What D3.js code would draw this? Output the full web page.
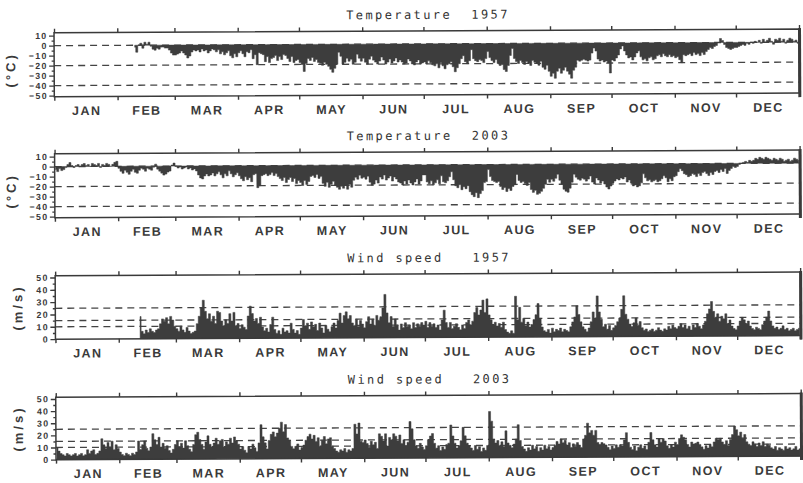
<!DOCTYPE html>
<html>
<head>
<meta charset="utf-8">
<script src="https://cdn.jsdelivr.net/npm/d3@7"></script>
<style>
  body { margin: 0; background: #fff; }
  svg { display: block; }
  .title { font-family: "DejaVu Sans Mono", monospace; font-size: 12px; letter-spacing: 2.4px; fill: #333; white-space: pre; }
  .month { font-family: "Liberation Sans", Arial, sans-serif; font-weight: bold; font-size: 12.5px; letter-spacing: 1.4px; fill: #3a3a3a; }
  .unit { font-family: "Liberation Sans", Arial, sans-serif; font-weight: bold; font-size: 13px; letter-spacing: 3px; fill: #3a3a3a; }
  .yaxis text { font-family: "Liberation Sans", Arial, sans-serif; font-weight: bold; font-size: 8.8px; letter-spacing: 1.3px; fill: #3a3a3a; }
  .yaxis line, .xaxis line { stroke: #3a3a3a; stroke-width: 1.4; }
</style>
</head>
<body>
<svg id="chart" width="803" height="483"></svg>
<script>
// Month labels and the day-of-year on which each month starts
const months = ["JAN","FEB","MAR","APR","MAY","JUN","JUL","AUG","SEP","OCT","NOV","DEC"];
const monthStarts = [0,31,59,90,120,151,181,212,243,273,304,334,365];

// Panel titles and axis units
const titles = ["Temperature  1957", "Temperature  2003", "Wind speed   1957", "Wind speed   2003"];
const units = ["(°C)", "(°C)", "(m/s)", "(m/s)"];

// Axis ticks and dashed reference levels
const tempTicks = [10,0,-10,-20,-30,-40,-50];
const tempMinor = [5,-5,-15,-25,-35,-45];
const tempRefs = [0,-20,-40];
const windTicks = [0,10,20,30,40,50];
const windMinor = [5,15,25,35,45];
const windRefs = [10,15,25];

// Daily air temperature (°C), 1957 record begins on day 39
const temp1957Start = 39;
const temp1957 = [
  -2,-7,0,2,-3,3,1,
  3,-1,-4,-5,-3,-4,-2,
  -2,-3,-3,-5,-8,-10,
  -10,-9,-8,-6,-8,-10,-13,
  -11,-7,-5,-6,-5,-7,-4,
  -6,-5,-8,-6,-4,-5,-7,-5,
  -9,-7,-10,-8,-6,-11,-13,-9,-12,
  -8,-6,-9,-12,-7,-8,-5,-14,-10,-20,
  -8,-9,-10,-17,-12,-18,-14,-13,-11,-16,
  -12,-15,-10,-11,-14,-17,-12,-18,-16,-15,
  -18,-20,-27,-19,-14,-16,-13,-17,-15,-18,
  -19,-21,-18,-20,-22,-25,-28,-24,-20,-8,
  -12,-20,-18,-14,-17,-15,-20,-18,-10,-14,-17,
  -14,-18,-20,-15,-12,-16,-18,-20,-17,-13,-16,-20,-18,-15,-19,-17,-14,-18,
  -16,-18,-20,-19,-15,-17,-20,-21,-18,-16,-20,-19,
  -18,-20,-17,-19,-21,-22,-20,-24,-19,-22,-25,-21,-20,-18,-23,
  -28,-24,-20,-15,-12,
  -18,-20,-17,-6,-15,-17,-18,-16,-17,-19,-15,
  -8,-14,-17,-19,-16,-20,-22,-21,-26,-28,-22,
  -12,-5,-15,-18,-20,-17,-19,-21,-18,-20,
  -22,-17,-19,-20,-22,-18,-24,-26,-22,-28,
  -33,-30,-35,-28,-25,-30,-27,-24,-28,-31,
  -35,-27,-24,-17,-18,-17,-16,-17,-18,-17,
  -10,-5,-8,-16,-18,-17,-19,-18,-20,-30,
  -17,-18,-15,-12,-6,-3,-8,-12,-15,-14,-17,
  -14,-10,-8,-14,-17,-16,-18,-15,-14,-17,
  -16,-13,-12,-14,-11,-13,-14,-12,-14,-13,
  -15,-14,-17,-20,-12,-13,-12,-11,-13,-10,
  -12,-11,-13,-10,-12,-9,-7,-5,-6,-4,-3,0,4,2,-2,-5,-6,-7,-6,-5,
  -5,-4,-3,-2,-3,-1,-2,0,-1,1,0,
  2,-1,3,0,2,4,1,-2,3,2,4,1,3,-1,2,4,3,1,2,-1
];

// Daily air temperature (°C), 2003 full year
const temp2003Start = 0;
const temp2003 = [
  -3,-5,-2,-4,-3,-1,2,4,1,-1,
  1,2,0,2,3,1,2,0,3,2,
  1,3,-1,2,1,3,2,0,2,4,5,
  -2,-5,-7,-4,-6,-8,-5,-3,-6,-7,-4,
  -2,-3,-5,-2,-3,-4,-1,2,
  -3,-5,-7,-9,-8,-6,-5,1,3,
  0,-2,-1,-3,-2,-1,-3,-2,-4,-3,-5,
  -9,-12,-13,-10,-8,-10,-9,-7,-10,-8,
  -6,-9,-12,-8,-10,-5,-8,-11,-9,-7,
  -10,-13,-15,-11,-14,-12,-16,-9,-8,-22,
  -20,-10,-9,-8,-10,-9,-7,-10,-8,-11,
  -13,-15,-12,-17,-14,-12,-16,-13,-18,-15,
  -17,-20,-15,-19,-16,-11,-10,-12,-9,-13,
  -11,-18,-21,-17,-22,-19,-16,-20,-22,-24,
  -21,-23,-20,-24,-19,-22,-15,-12,-14,-10,-13,
  -12,-14,-11,-17,-20,-19,-15,-18,-12,-14,
  -10,-15,-13,-11,-16,-12,-14,-17,-18,-20,
  -16,-19,-15,-18,-20,-17,-14,-19,-16,-10,
  -10,-17,-19,-16,-20,-18,-15,-19,-11,-17,
  -18,-16,-12,-7,-15,-21,-23,-20,-25,-22,
  -24,-21,-27,-30,-32,-28,-33,-29,-26,-18,
  -17,-5,-12,-16,-17,-18,-17,-22,-25,-23,
  -27,-24,-26,-22,-20,-10,-16,-18,-17,-19,
  -21,-18,-25,-28,-26,-30,-29,-27,-24,-20,
  -15,-18,-15,-17,-14,-10,-16,-20,-25,-27,
  -28,-24,-18,-10,-13,-15,-16,-14,-15,-17,
  -15,-12,-18,-20,-14,-16,-19,-17,-20,-23,
  -25,-22,-19,-17,-15,-16,-14,-15,-13,-18,
  -16,-19,-22,-21,-23,-22,-19,-10,-14,-17,
  -16,-18,-17,-16,-18,-17,-15,-12,-14,-18,
  -15,-17,-13,-12,-8,-5,-7,-10,-11,-13,
  -12,-10,-11,-13,-10,-12,-9,-8,-10,-12,
  -9,-11,-8,-7,-9,-6,-8,-5,-10,-7,
  -5,-3,-4,-3,-1,0,1,2,1,3,
  2,3,5,4,6,5,4,6,5,4,
  3,5,4,3,5,4,2,3,4,2,3,5,4,3
];

// Daily peak wind speed (m/s), 1957 record begins on day 41
const wind1957Start = 41;
const wind1957 = [
  18,6,4,7,5,8,6,5,7,8,
  12,16,14,17,12,18,15,10,8,6,
  10,7,5,9,6,4,5,6,12,18,
  25,31,22,16,20,14,18,12,22,21,
  14,10,15,12,20,14,21,10,12,8,
  11,9,7,18,26,20,14,16,12,17,
  9,6,8,5,11,17,7,4,6,3,
  8,5,6,4,12,7,4,6,3,8,
  15,10,12,7,13,9,11,6,12,8,
  4,10,7,5,9,12,8,14,20,12,
  18,21,15,18,12,10,15,9,14,11,
  8,13,17,11,15,10,18,14,17,24,
  35,20,12,17,9,15,10,6,11,8,
  12,9,10,7,12,8,11,9,12,10,
  13,8,12,9,11,8,10,6,14,22,
  12,8,12,7,9,11,8,6,10,7,
  12,14,10,13,20,24,18,22,30,20,
  31,18,14,10,12,9,11,8,12,6,
  4,3,5,3,33,14,24,12,15,9,
  12,8,10,14,18,27,15,8,5,4,
  6,3,7,4,6,5,7,4,6,5,
  4,8,12,16,25,18,12,8,6,4,
  7,12,20,15,33,20,14,8,10,6,
  9,5,7,9,12,15,22,33,18,14,
  10,8,11,15,9,12,7,5,6,4,
  5,6,4,5,7,5,4,6,5,8,
  6,9,7,6,8,10,7,9,6,8,
  5,9,7,10,8,6,9,12,18,22,
  28,20,15,18,12,16,14,18,10,13,
  8,6,5,8,12,15,13,10,12,8,
  6,5,7,6,5,9,12,15,20,12,
  8,6,7,5,6,8,5,6,4,5,
  6,4,5,6
];

// Daily peak wind speed (m/s), 2003 full year
const wind2003Start = 0;
const wind2003 = [
  10,7,5,4,3,5,4,3,4,5,
  3,4,5,3,4,8,5,7,8,4,
  5,7,17,12,9,14,10,15,8,12,
  9,6,4,3,5,4,3,5,4,6,
  15,8,12,15,9,7,10,21,16,12,
  18,10,13,9,11,7,5,8,12,15,
  10,13,9,15,11,8,6,12,20,22,
  16,12,8,14,19,12,10,13,17,12,
  15,16,10,14,12,17,13,18,15,12,
  8,10,7,5,10,8,12,9,6,13,
  28,18,13,8,15,20,22,18,21,25,
  30,22,28,17,15,10,8,10,12,7,
  9,11,15,18,20,16,19,14,17,10,
  15,18,12,16,17,10,8,6,5,7,
  6,8,5,7,6,8,28,20,29,14,
  13,15,12,9,14,11,13,8,20,18,
  14,20,10,17,15,20,18,14,19,12,
  15,10,13,30,24,15,10,8,12,9,
  7,10,15,18,20,12,8,10,6,9,
  7,11,12,27,18,12,8,10,14,25,
  18,12,10,8,6,10,7,9,5,8,
  6,10,38,30,15,12,14,10,13,9,
  22,12,10,8,11,15,27,14,9,7,
  5,8,6,10,7,9,5,8,6,10,
  7,9,6,8,10,13,11,15,12,14,
  10,12,8,11,9,12,10,8,15,18,
  28,20,22,18,22,12,10,12,11,10,
  8,6,9,7,10,8,10,9,14,20,
  12,8,6,9,5,8,10,7,9,6,
  12,20,14,10,8,15,12,15,13,9,
  7,10,8,12,10,15,18,16,14,10,
  8,12,10,11,12,10,8,6,9,7,
  10,8,12,15,14,15,12,10,13,9,
  14,18,25,22,17,20,15,18,12,10,
  9,12,10,8,11,9,12,8,10,9,
  7,6,8,5,7,6,5,8,6,7,
  5,6,8,5,6
];

const ink = "#3a3a3a";
const fillInk = "#3d3d3d";

const panels = [
  { title: titles[0], unit: units[0], top: 31,  bottom: 95,  domain: [-51, 13],  values: temp1957, start: temp1957Start, ticks: tempTicks, minor: tempMinor, refs: tempRefs, unitShift: 5 },
  { title: titles[1], unit: units[1], top: 152, bottom: 216, domain: [-51, 13],  values: temp2003, start: temp2003Start, ticks: tempTicks, minor: tempMinor, refs: tempRefs, unitShift: 5 },
  { title: titles[2], unit: units[2], top: 274, bottom: 337.5, domain: [0, 51.5], values: wind1957, start: wind1957Start, ticks: windTicks, minor: windMinor, refs: windRefs, unitShift: 0 },
  { title: titles[3], unit: units[3], top: 395.5, bottom: 458, domain: [0, 51.5], values: wind2003, start: wind2003Start, ticks: windTicks, minor: windMinor, refs: windRefs, unitShift: 0 }
];

const svg = d3.select("#chart");
// the whole sheet sits with a slight tilt
const sheet = svg.append("g").attr("transform", "rotate(-0.27,401,241)");

const x = d3.scaleLinear().domain([0, 365]).range([55, 800]);

panels.forEach(p => {
  const g = sheet.append("g");
  const y = d3.scaleLinear().domain(p.domain).range([p.bottom, p.top]);

  // dashed reference levels
  g.selectAll("line.ref").data(p.refs).join("line")
    .attr("class", "ref")
    .attr("x1", x(0)).attr("x2", x(365))
    .attr("y1", d => y(d)).attr("y2", d => y(d))
    .attr("stroke", "#444").attr("stroke-width", 1.3)
    .attr("stroke-dasharray", "7,5");

  // filled series between zero and the daily value, one step per day
  const area = d3.area()
    .curve(d3.curveStep)
    .x((d, i) => x(p.start + i + 0.5))
    .y0(y(0))
    .y1(d => y(d));
  g.append("path")
    .datum(p.values)
    .attr("d", area)
    .attr("fill", fillInk)
    .attr("stroke", fillInk)
    .attr("stroke-width", 0.5);

  // frame
  g.append("rect")
    .attr("x", x(0)).attr("y", p.top)
    .attr("width", x(365) - x(0)).attr("height", p.bottom - p.top)
    .attr("fill", "none").attr("stroke", ink).attr("stroke-width", 1.5);
  g.append("line")
    .attr("x1", x(365) + 0.5).attr("x2", x(365) + 0.5)
    .attr("y1", p.top - 1).attr("y2", p.bottom + 4)
    .attr("stroke", ink).attr("stroke-width", 3);

  // month ticks on top and bottom
  g.append("g").attr("class", "xaxis")
    .attr("transform", `translate(0,${p.top})`)
    .call(d3.axisTop(x).tickValues(monthStarts).tickSize(4).tickSizeOuter(0).tickFormat(""))
    .call(a => a.select(".domain").remove());
  g.append("g").attr("class", "xaxis")
    .attr("transform", `translate(0,${p.bottom})`)
    .call(d3.axisBottom(x).tickValues(monthStarts).tickSize(4).tickSizeOuter(0).tickFormat(""))
    .call(a => a.select(".domain").remove());

  // month names centred in each month
  g.selectAll("text.month").data(months).join("text")
    .attr("class", "month")
    .attr("x", (d, i) => x((monthStarts[i] + monthStarts[i + 1]) / 2) + 0.7)
    .attr("y", p.bottom + 18.5)
    .attr("text-anchor", "middle")
    .text(d => d);

  // y axis: labelled ticks and short minor ticks
  g.append("g").attr("class", "yaxis")
    .attr("transform", `translate(${x(0)},0)`)
    .call(d3.axisLeft(y).tickValues(p.ticks).tickSize(5).tickSizeOuter(0).tickPadding(1.5))
    .call(a => a.select(".domain").remove());
  g.append("g").attr("class", "yaxis")
    .attr("transform", `translate(${x(0)},0)`)
    .call(d3.axisLeft(y).tickValues(p.minor).tickSize(2.5).tickSizeOuter(0).tickFormat(""))
    .call(a => a.select(".domain").remove());

  // unit label
  const cy = (p.top + p.bottom) / 2 + p.unitShift;
  g.append("text")
    .attr("class", "unit")
    .attr("transform", `translate(${p.unit === "(°C)" ? 16 : 22},${cy}) rotate(-90)`)
    .attr("text-anchor", "middle")
    .text(p.unit);

  // title
  g.append("text")
    .attr("class", "title")
    .attr("x", 429)
    .attr("y", p.top - 12)
    .attr("text-anchor", "middle")
    .text(p.title);
});
</script>
</body>
</html>
